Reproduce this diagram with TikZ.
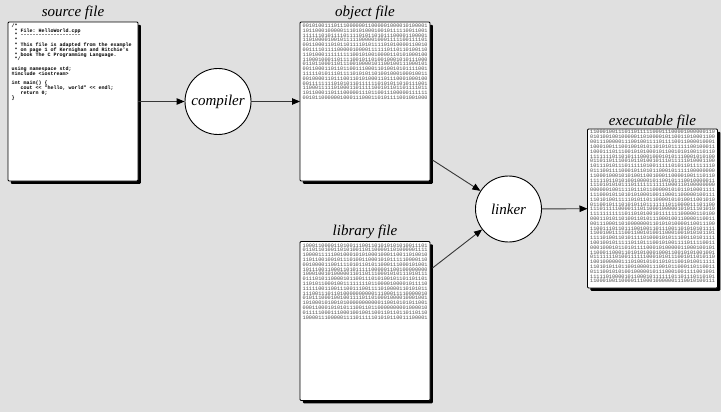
\documentclass[tikz,border=0pt]{standalone}
\usepackage{fontspec}
\setmainfont{Liberation Serif}
\setmonofont{Liberation Mono}
\usetikzlibrary{arrows.meta,shadows}

\definecolor{bg}{RGB}{224,224,224}
\definecolor{wire}{RGB}{55,55,55}

% one row of 40 pseudo-random binary digits
\newcommand\bitrow{\foreach \c in {1,...,40}{\pgfmathrandominteger{\bitval}{0}{1}\bitval}}

\begin{document}
\begin{tikzpicture}[x=1pt,y=-1pt,
  file/.style={draw=black, line width=0.9pt, fill=white, rounded corners=1pt,
    inner sep=0pt, outer sep=0pt, minimum width=130pt, minimum height=159pt,
    drop shadow={shadow xshift=2.8pt, shadow yshift=-2.8pt, opacity=1, fill=black}},
  title/.style={font=\fontsize{15}{18}\selectfont\itshape, anchor=base, inner sep=0pt},
  tool/.style={circle, draw=black, line width=0.9pt, fill=white, minimum size=66pt,
    inner sep=0pt, font=\fontsize{15}{18}\selectfont\itshape},
  flow/.style={draw=wire, line width=0.9pt,
    -{Triangle[length=8pt,width=6.5pt,color=black]}},
  bits/.style={font=\fontsize{5.2}{5.2}\selectfont\ttfamily, text=black!70,
    anchor=base west, inner sep=0pt},
  code/.style={font=\fontsize{5}{4.8}\selectfont\ttfamily\bfseries, align=left,
    anchor=north west, inner sep=0pt}]

\pgfmathsetseed{2718}
\path[use as bounding box, fill=bg] (0,0) rectangle (721,412);

% the four files
\node[file] (src) at (73,101.5) {};
\node[file] (obj) at (365,101.5) {};
\node[file] (lib) at (365,321) {};
\node[file] (exe) at (652.5,208.5) {};

\node[title] (srct) at (73,16.5) {source file};
\node[title] (objt) at (365,16.5) {object file};
\node[title] (libt) at (365,235.5) {library file};
\node[title] (exet) at (652.5,125.5) {executable file};

% source code listing
\node[code] (code) at (11.5,23.5) {%
/*\\
\ * File: HelloWorld.cpp\\
\ * --------------------\\
\ *\\
\ * This file is adapted from the example\\
\ * on page 1 of Kernighan and Ritchie's\\
\ * book The C Programming Language.\\
\ */\\
\mbox{}\\
using namespace std;\\
\#include <iostream>\\
\mbox{}\\
int main() \{\\
\ \ \ cout << "hello, world" << endl;\\
\ \ \ return 0;\\
\}};

% binary contents
\foreach \r in {0,...,15}
  \node[bits] (objbits\r) at (302.5,27.5+4.8*\r) {\bitrow};
\foreach \r in {0,...,15}
  \node[bits] (libbits\r) at (302.5,247+4.8*\r) {\bitrow};
\foreach \r in {0,...,31}
  \node[bits] (exebits\r) at (590,134+4.8*\r) {\bitrow};

% tools
\node[tool] (comp) at (218,101.5) {compiler};
\node[tool] (link) at (508.5,209) {linker};

% connectors
\coordinate (objout) at (432.5,160);
\coordinate (libout) at (432.5,268);
\draw[flow] (src.east) -- (comp);
\draw[flow] (comp) -- (obj);
\draw[flow] (objout) -- (link);
\draw[flow] (libout) -- (link);
\draw[flow] (link) -- (exe);
\end{tikzpicture}
\end{document}
